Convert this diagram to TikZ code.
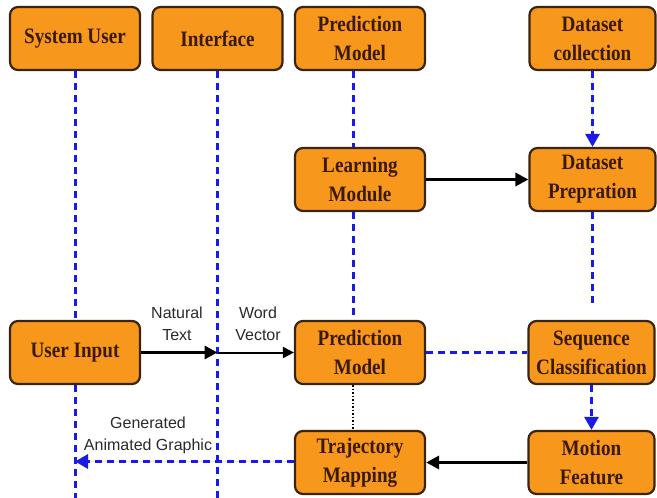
\documentclass[tikz,border=0pt]{standalone}
\usepackage{fontspec}
\setmainfont{Liberation Serif}[FakeStretch=0.87]
\newfontfamily\labfont{Liberation Sans}
\usetikzlibrary{arrows.meta}
\definecolor{boxfill}{HTML}{F7981D}
\definecolor{boxdraw}{HTML}{3A2410}
\definecolor{boxtext}{HTML}{3A1A05}
\definecolor{lifeblue}{HTML}{1A1AE6}
\definecolor{labtext}{HTML}{2A2A2A}
\begin{document}
\begin{tikzpicture}[x=1pt,y=-1pt,
  box/.style={draw=boxdraw, line width=2.2pt, fill=boxfill, rounded corners=8pt,
    minimum width=130pt, minimum height=63pt, inner sep=0pt, align=center,
    text=boxtext, font=\fontsize{22}{29}\selectfont\bfseries},
  nbox/.style={box, minimum width=126pt},
  life/.style={draw=lifeblue, line width=3pt, dash pattern=on 7pt off 5pt},
  bluearrow/.style={life, -{Triangle[length=13pt,width=14pt]}, fill=lifeblue},
  blackarrow/.style={draw=black, line width=3.5pt, -{Triangle[length=13pt,width=13pt]}},
  thinarrow/.style={draw=black, line width=2pt, -{Triangle[length=11pt,width=11pt]}},
  lab/.style={align=center, text=labtext, inner sep=0pt, font=\labfont\fontsize{16}{22}\selectfont}
]
\useasboundingbox (0,0) rectangle (657,498);

% top row
\node[box]  (su)  at (75,38.5)   {System User};
\node[box]  (if)  at (217.5,38.5) {Interface};
\node[box]  (pm1) at (360,38.5)  {Prediction\\Model};
\node[nbox] (dc)  at (592.5,38.5) {Dataset\\collection};
% second row
\node[box]  (lm)  at (360,179.5) {Learning\\Module};
\node[nbox] (dp)  at (592.5,179.5) {Dataset\\Prepration};
% third row
\node[box]  (ui)  at (75,352.5)  {User Input};
\node[box]  (pm2) at (360,352.5) {Prediction\\Model};
\node[nbox] (sc)  at (591.5,352.5) {Sequence\\Classification};
% fourth row
\node[box]  (tm)  at (360,462.5) {Trajectory\\Mapping};
\node[nbox] (mf)  at (591.5,462.5) {Motion\\Feature};

% coordinates
\coordinate (subot) at (75,498);
\coordinate (ifbot) at (217.5,498);
\coordinate (dpend) at (592.5,308);
\coordinate (ifx) at (217.5,352.5);
\coordinate (sux) at (75,461.5);

% lifelines
\draw[life] (su.south) -- (ui.north);
\draw[life] (ui.south) -- (subot);
\draw[life] (if.south) -- (ifbot);
\draw[life] ([xshift=-7pt]pm1.south) -- ([xshift=-7pt]lm.north);
\draw[life] ([xshift=-7pt]lm.south) -- ([xshift=-7pt]pm2.north);
\draw[black, line width=1.5pt, dotted] ([xshift=-7pt]pm2.south) -- ([xshift=-7pt]tm.north);
\draw[bluearrow] (dc.south) -- (dp.north);
\draw[life] (dp.south) -- (dpend);
\draw[bluearrow] (sc.south) -- (mf.north);

% horizontal connectors
\draw[blackarrow] (lm.east) -- (dp.west);
\draw[blackarrow] (ui.east) -- (ifx);
\draw[thinarrow] (ifx) -- (pm2.west);
\draw[life] (pm2.east) -- (sc.west);
\draw[blackarrow] (mf.west) -- (tm.east);
\draw[bluearrow] (tm.west |- sux) -- (sux);

% labels
\node[lab] (l1) at (177,324) {Natural\\Text};
\node[lab] (l2) at (258,324) {Word\\Vector};
\node[lab] (l3) at (148,435) {Generated\\Animated Graphic};
\end{tikzpicture}
\end{document}
